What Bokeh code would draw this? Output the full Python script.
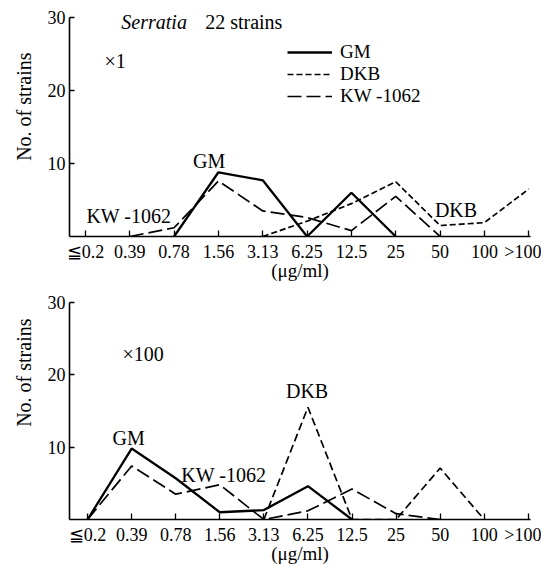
import math
from bokeh.plotting import figure
from bokeh.layouts import column
from bokeh.models import FixedTicker, Label, Legend, LegendItem, Title
from bokeh.embed import file_html
from bokeh.resources import INLINE

nan = float("nan")

# ---- data ----
categories = ["≦0.2", "0.39", "0.78", "1.56", "3.13", "6.25", "12.5", "25", "50", "100", ">100"]
y_ticks = [10, 20, 30]

# x1 inoculum
gm_x1 = [nan, nan, 0, 8.8, 7.7, 0, 6.0, 0, nan, nan, nan]
dkb_x1 = [nan, nan, nan, nan, 0, 2.1, 4.5, 7.5, 1.5, 1.9, 6.5]
kw_x1 = [nan, 0, 1.2, 7.6, 3.5, 2.6, 0.8, 5.5, 0, nan, nan]

# x100 inoculum
gm_x100 = [0, 9.8, 5.7, 1.0, 1.3, 4.6, 0, nan, nan, nan, nan]
dkb_x100 = [nan, nan, nan, nan, 0, 15.5, 0, 0, 7.1, 0, nan]
kw_x100 = [0, 7.4, 3.5, 4.8, 0, 1.2, 4.2, 0.8, 0, nan, nan]

xs = list(range(len(categories)))

FONT = "Liberation Serif"


def make_fig(height, border_bottom, border_left, x_start, x_end, y_top, ylab_offset):
    p = figure(width=541, height=height, output_backend="svg", toolbar_location=None,
               x_range=(x_start, x_end), y_range=(0, y_top),
               min_border_left=border_left, min_border_right=541 - 530,
               min_border_top=0, min_border_bottom=border_bottom)
    p.outline_line_color = None
    p.xgrid.visible = False
    p.ygrid.visible = False
    p.background_fill_color = "white"
    p.border_fill_color = "white"

    p.xaxis.ticker = FixedTicker(ticks=xs)
    p.xaxis.major_label_overrides = {i: c for i, c in enumerate(categories)}
    p.xaxis.major_tick_in = 6
    p.xaxis.major_tick_out = 0
    p.xaxis.minor_tick_line_color = None
    p.xaxis.major_label_standoff = 5
    p.xaxis.major_label_text_font = FONT
    p.xaxis.major_label_text_font_size = "18px"
    p.xaxis.major_label_text_color = "black"
    p.xaxis.axis_label = "(μg/ml)"
    p.xaxis.axis_label_standoff = -5
    p.xaxis.axis_label_text_font = FONT
    p.xaxis.axis_label_text_font_size = "19px"
    p.xaxis.axis_label_text_font_style = "normal"
    p.xaxis.axis_label_text_color = "black"

    p.yaxis.ticker = FixedTicker(ticks=y_ticks)
    p.yaxis.bounds = (0, 30)
    p.yaxis.major_tick_in = 5
    p.yaxis.major_tick_out = 0
    p.yaxis.minor_tick_line_color = None
    p.yaxis.major_label_standoff = 4
    p.yaxis.major_label_text_font = FONT
    p.yaxis.major_label_text_font_size = "18px"
    p.yaxis.major_label_text_color = "black"

    for ax in (p.xaxis, p.yaxis):
        ax.axis_line_width = 1.6
        ax.axis_line_color = "black"
        ax.major_tick_line_width = 1.3
        ax.major_tick_line_color = "black"

    p.add_layout(Title(text="No. of strains", align="right", offset=ylab_offset,
                       text_font=FONT, text_font_size="20px", text_font_style="normal",
                       text_color="black", standoff=20), "left")
    return p


def add_label(p, x, y, text, size="20px", align="center", style="normal"):
    p.add_layout(Label(x=x, y=y, text=text, text_font=FONT, text_font_size=size,
                       text_align=align, text_baseline="middle", text_font_style=style,
                       text_color="black"))


# ---- top panel (x1) ----
p1 = make_fig(283, 46, 67, -0.36, 10.04, 32.33, 52)
r_gm1 = p1.line(xs, gm_x1, line_color="black", line_width=2.3)
r_dkb1 = p1.line(xs, dkb_x1, line_color="black", line_width=1.7, line_dash="6 3")
r_kw1 = p1.line(xs, kw_x1, line_color="black", line_width=1.7, line_dash="14 5")

legend = Legend(items=[LegendItem(label="GM", renderers=[r_gm1]),
                       LegendItem(label="DKB", renderers=[r_dkb1]),
                       LegendItem(label="KW -1062", renderers=[r_kw1])],
                location=(218, 129), orientation="vertical",
                background_fill_alpha=0, border_line_color=None,
                glyph_width=45, glyph_height=20, label_height=20,
                label_standoff=8, spacing=-2, padding=0, margin=0,
                label_text_font=FONT, label_text_font_size="19px",
                label_text_color="black")
p1.add_layout(legend)

add_label(p1, 0.81, 29.4, "Serratia", align="left", style="italic")
add_label(p1, 2.70, 29.4, "22 strains", align="left")
add_label(p1, 0.43, 24.1, "×1", align="left")
add_label(p1, 2.79, 10.4, "GM")
add_label(p1, 0.98, 2.8, "KW -1062")
add_label(p1, 8.36, 3.6, "DKB")

# ---- bottom panel (x100) ----
p2 = make_fig(283, 44, 68, -0.41, 10.05, 32.6, 35)
p2.line(xs, gm_x100, line_color="black", line_width=2.3)
p2.line(xs, dkb_x100, line_color="black", line_width=1.7, line_dash="8 4")
p2.line(xs, kw_x100, line_color="black", line_width=1.7, line_dash="14 5")

add_label(p2, 0.79, 22.9, "×100", align="left")
add_label(p2, 4.98, 17.7, "DKB")
add_label(p2, 0.93, 11.3, "GM")
add_label(p2, 3.09, 6.2, "KW -1062")

layout = column(p1, p2, spacing=0)
open("out.html", "w").write(file_html(layout, INLINE))
